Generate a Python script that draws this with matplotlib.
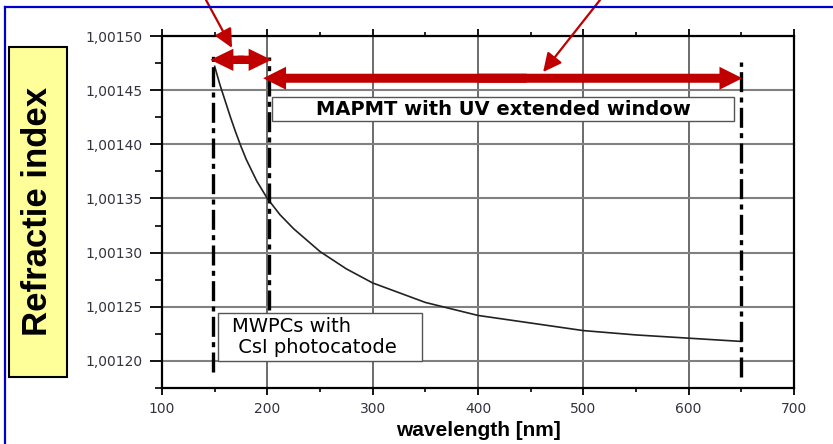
import matplotlib
matplotlib.use("Agg")
import matplotlib.pyplot as plt
from matplotlib.patches import Rectangle, FancyArrowPatch
from matplotlib.lines import Line2D
from matplotlib.ticker import MultipleLocator, FuncFormatter

plt.rcParams['font.family'] = ['DejaVu Sans']

# --------------------------------------------------
# data
wavelength = [150, 155, 160, 165, 170, 175, 180, 190, 200, 212, 225, 250, 275, 300,
              350, 400, 450, 500, 550, 600, 650]
refr_index = [1.001472, 1.001455, 1.001440, 1.001425, 1.001411, 1.001398, 1.001386,
              1.001366, 1.001350, 1.001335, 1.001322, 1.001301, 1.001285, 1.001272,
              1.001254, 1.001242, 1.001235, 1.001228, 1.001224, 1.001221, 1.001218]

mwpc_range = (146, 204)      # red arrow, MWPC
mapmt_range = (196, 651)     # red arrow, MAPMT
cut_lines = [148, 202, 650]  # dash-dot lines
cut_tops = [1.001484, 1.001481, 1.001476]
cut_bottoms = [1.001190, 1.001247, 1.001185]

x_ticks = [100, 200, 300, 400, 500, 600, 700]
y_ticks = [1.00120, 1.00125, 1.00130, 1.00135, 1.00140, 1.00145, 1.00150]

RED = '#c00000'
W, H = 833, 444

fig = plt.figure(figsize=(W / 100, H / 100), dpi=100)
ax = fig.add_axes([162 / W, (H - 388) / H, (794 - 162) / W, (388 - 36) / H])

# --------------------------------------------------
# axes, ticks, grid
ax.set_xlim(100, 700)
ax.set_ylim(1.001175, 1.00150)
ax.set_xticks(x_ticks)
ax.set_yticks(y_ticks)
ax.xaxis.set_minor_locator(MultipleLocator(50))
ax.yaxis.set_minor_locator(MultipleLocator(0.000025))
ax.yaxis.set_major_formatter(FuncFormatter(lambda v, p: f"{v:.5f}".replace('.', ',')))
ax.tick_params(axis='x', which='major', direction='out', length=5, width=1.3,
               top=True, labelsize=10, labelcolor='#333340', pad=5)
ax.tick_params(axis='x', which='minor', direction='out', length=3, width=1.2, top=True)
ax.tick_params(axis='y', which='major', direction='out', length=9, width=1.3,
               labelsize=10, labelcolor='#333340', pad=5)
ax.tick_params(axis='y', which='minor', direction='out', length=5, width=1.2)
for s in ax.spines.values():
    s.set_linewidth(1.6)
ax.xaxis.grid(True, which='major', color='#444444', lw=1.1)
ax.yaxis.grid(True, which='major', color='#808080', lw=1.5)
ax.set_axisbelow(True)

ax.set_xlabel('wavelength [nm]', family='Liberation Sans', fontweight='bold',
              fontsize=15, labelpad=4)

# --------------------------------------------------
# curve + dash-dot limits
ax.plot(wavelength, refr_index, color='#222222', lw=1.2, zorder=3)

for xc, y0, y1 in zip(cut_lines, cut_bottoms, cut_tops):
    ax.plot([xc, xc], [y0, y1], color='black', lw=2.4,
            dashes=(6, 1.6, 1.5, 1.6), zorder=5)

# --------------------------------------------------
# text boxes
ax.add_patch(Rectangle((204.5, 1.0014214), 643 - 204.5, 1.0014436 - 1.0014214,
                       fc='white', ec='#555555', lw=1.0, zorder=4))
ax.text(423.8, 1.0014322, 'MAPMT with UV extended window', ha='center', va='center',
        fontsize=14, fontweight='bold', zorder=6)

ax.add_patch(Rectangle((153.2, 1.0012), 346.9 - 153.2, 1.001244 - 1.0012,
                       fc='white', ec='#555555', lw=1.0, zorder=4))
ax.text(166.5, 1.0012223, 'MWPCs with\n CsI photocatode', ha='left', va='center',
        fontsize=14, linespacing=1.15, zorder=6)


# --------------------------------------------------
# red arrows
def double_arrow(x0, x1, y, tail, head_w, head_l):
    style = f"simple,head_length={head_l},head_width={head_w},tail_width={tail}"
    mid = (x0 + x1) / 2
    overlap = 0.05 * (x1 - x0)
    # each half starts a bit past the middle so the shafts merge
    for start, end in ((mid + overlap, x0), (mid - overlap, x1)):
        ax.add_patch(FancyArrowPatch((start, y), (end, y), arrowstyle=style,
                                     mutation_scale=1, fc=RED, ec='none', lw=0,
                                     shrinkA=0, shrinkB=0, zorder=7, clip_on=False))


double_arrow(mwpc_range[0], mwpc_range[1], 1.001478, 6, 16, 16.5)
double_arrow(mapmt_range[0], mapmt_range[1], 1.001461, 6.5, 16.5, 16.5)

pointer = dict(arrowstyle='-|>,head_length=0.45,head_width=0.22', color=RED,
               lw=1.6, mutation_scale=25, shrinkA=0, shrinkB=0)
ax.annotate('', xy=(166.5, 1.001489), xytext=(206 / W, 1.0), textcoords='figure fraction',
            arrowprops=pointer, annotation_clip=False, zorder=8)
ax.annotate('', xy=(461.8, 1.0014667), xytext=(600 / W, 1.0), textcoords='figure fraction',
            arrowprops=pointer, annotation_clip=False, zorder=8)

# --------------------------------------------------
# frame + yellow label
fig.add_artist(Line2D([5 / W, 1], [1 - 7 / H, 1 - 7 / H], color='#0000cc', lw=1.6,
                      transform=fig.transFigure))
fig.add_artist(Line2D([5 / W, 5 / W], [0, 1 - 7 / H], color='#0000cc', lw=1.6,
                      transform=fig.transFigure))
fig.add_artist(Rectangle((9 / W, (H - 377) / H), 58 / W, 330 / H, transform=fig.transFigure,
                         fc='#ffff99', ec='black', lw=1.5))
fig.text(38 / W, 1 - 211 / H, 'Refractie index', rotation=90, ha='center', va='center',
         family='Liberation Sans', fontweight='bold', fontsize=25)

fig.savefig('out.png', dpi=100)
